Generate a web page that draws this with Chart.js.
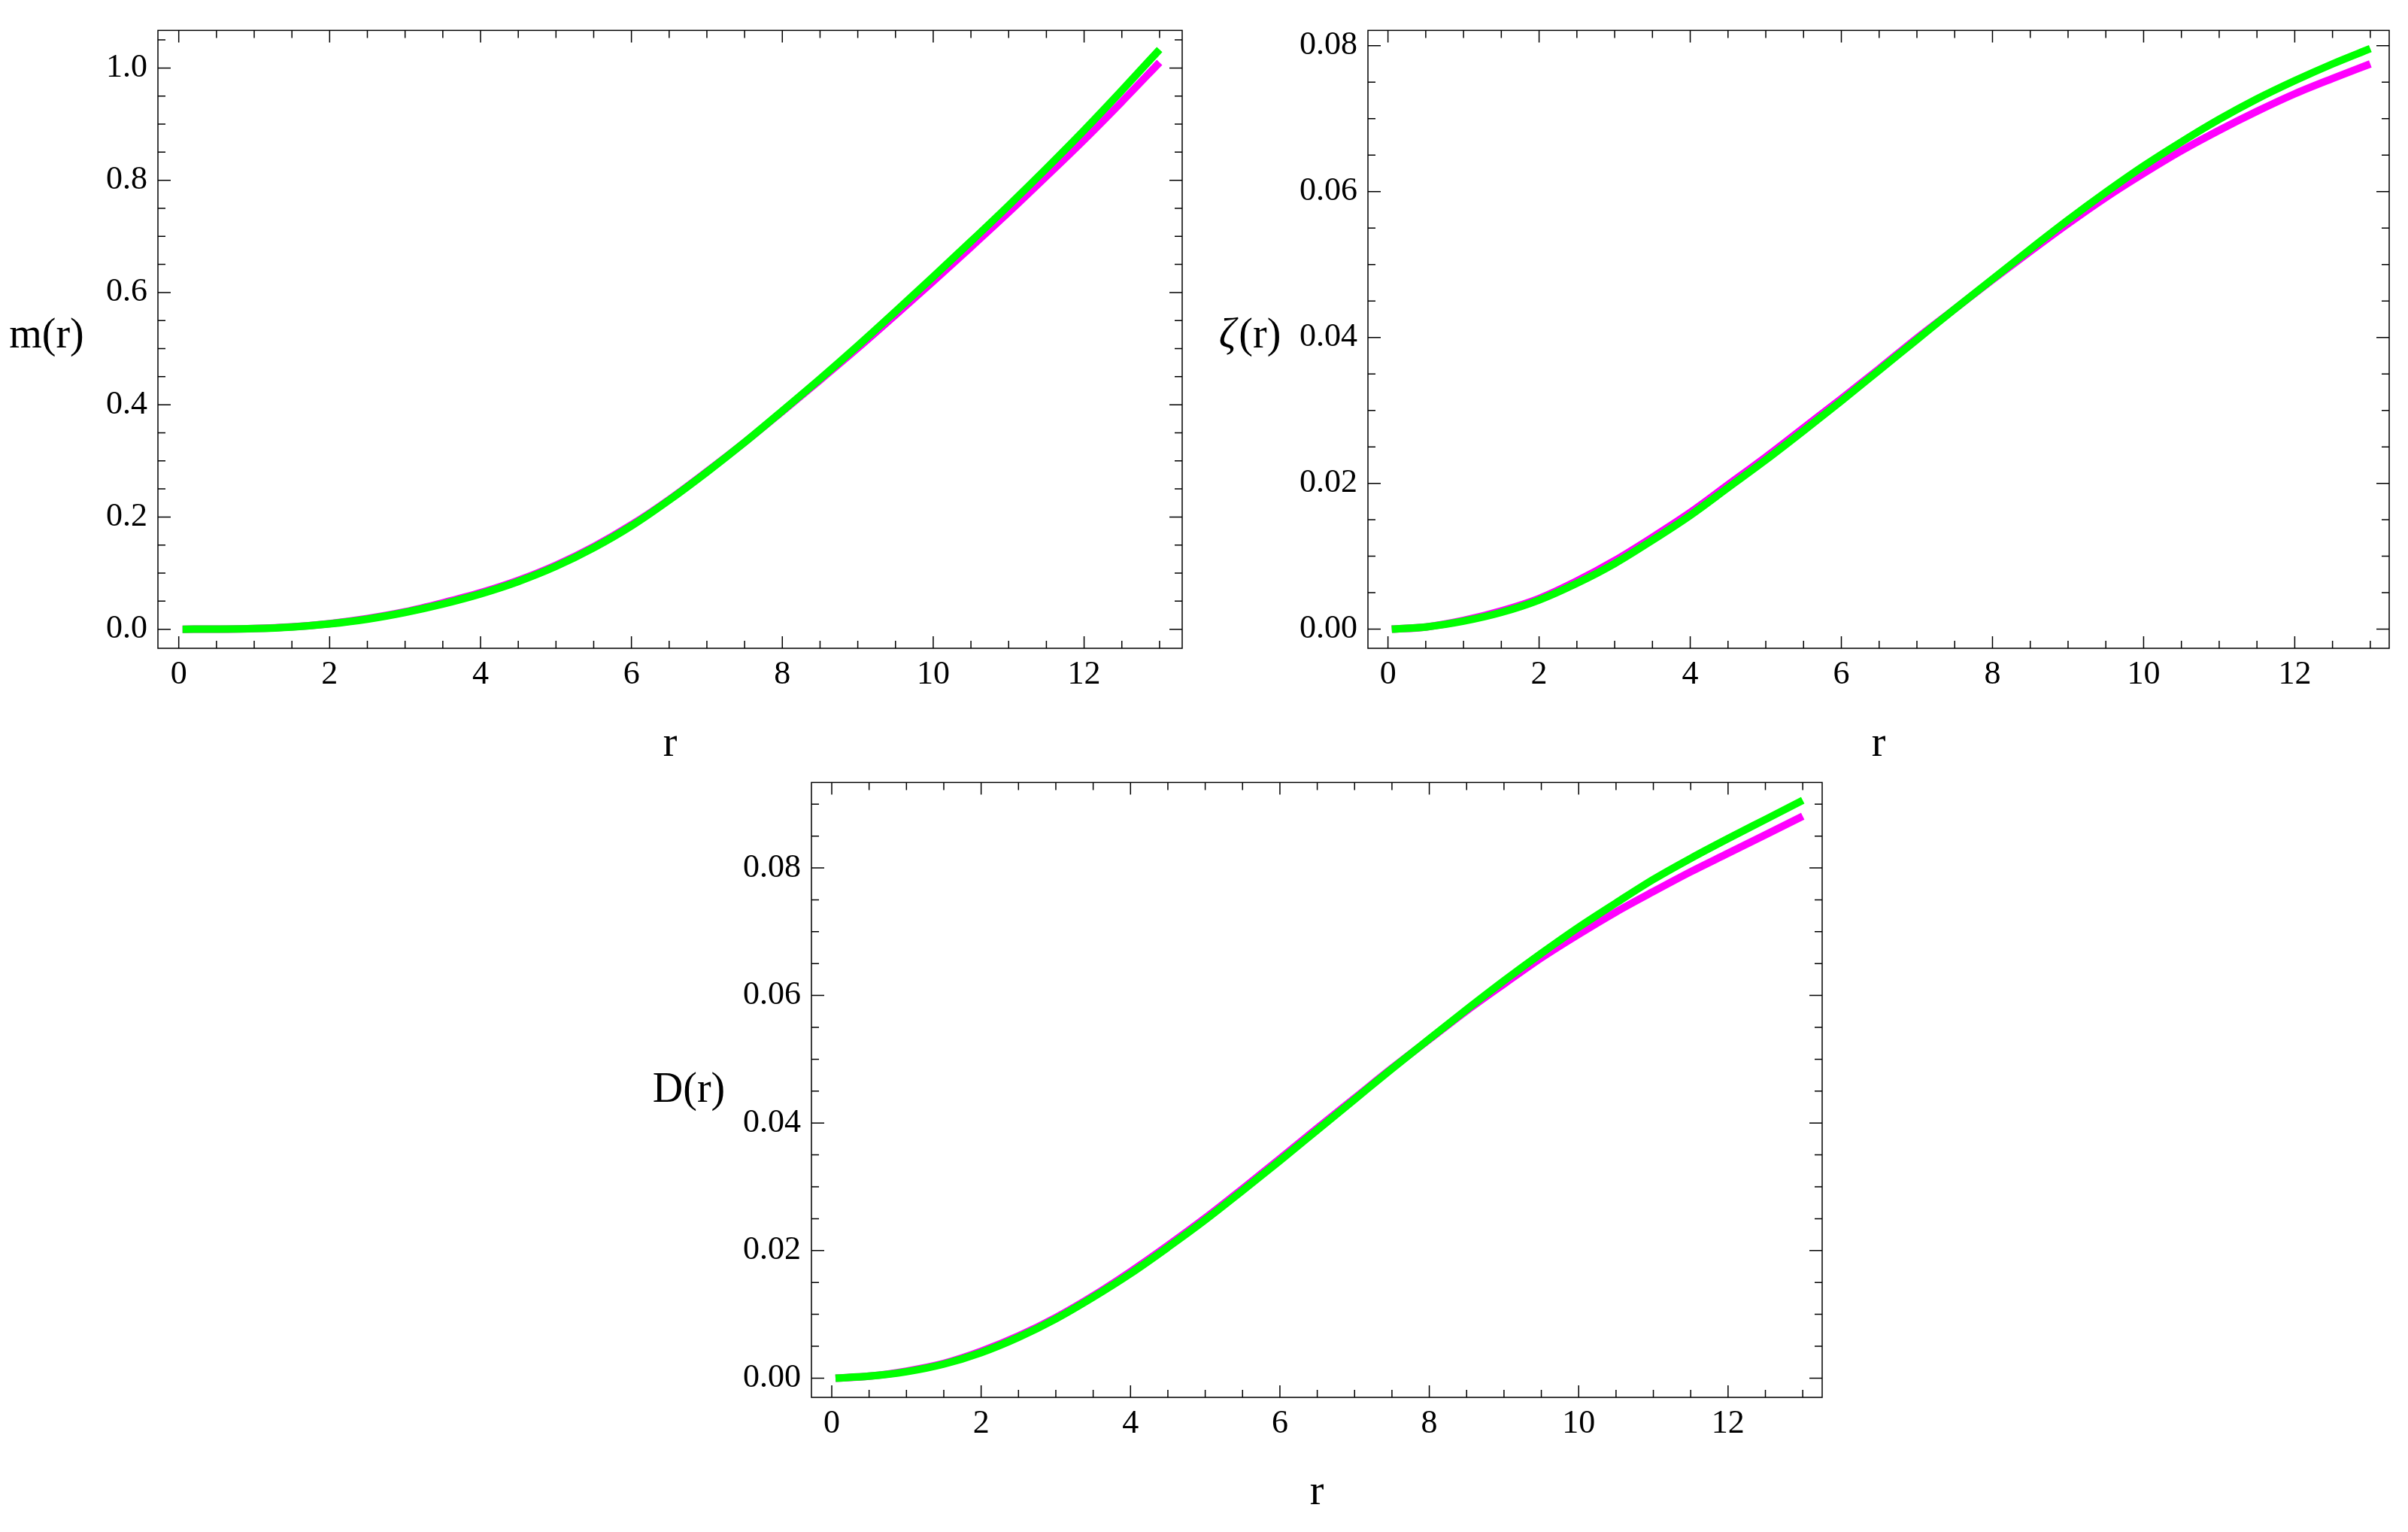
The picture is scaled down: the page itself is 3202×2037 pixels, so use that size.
<!DOCTYPE html>
<html>
<head>
<meta charset="utf-8">
<title>m(r), zeta(r), D(r)</title>
<script src="https://cdn.jsdelivr.net/npm/chart.js@4.4.1/dist/chart.umd.min.js"></script>
<style>
    html, body { margin: 0; padding: 0; background: #fff; }
    body { width: 3202px; height: 2037px; position: relative; overflow: hidden; }
    .panel { position: absolute; }
</style>
</head>
<body>
<div class="panel" style="left:0px;top:0px;width:1600px;height:1040px"><canvas id="mChart"></canvas></div>
<div class="panel" style="left:1600px;top:0px;width:1602px;height:1040px"><canvas id="zetaChart"></canvas></div>
<div class="panel" style="left:800px;top:1000px;width:1700px;height:1037px"><canvas id="dChart"></canvas></div>

<script>
// ---------------- DATA ----------------
const rValues = [0.05, 0.5, 1, 1.5, 2, 2.5, 3, 3.5, 4, 4.5, 5, 5.5, 6, 6.5, 7, 7.5, 8, 8.5, 9, 9.5, 10, 10.5, 11, 11.5, 12, 12.5, 13];

const mMagenta = [0, 0.0002, 0.0013, 0.0042, 0.0100, 0.019, 0.031, 0.047, 0.065, 0.087, 0.114, 0.147, 0.186, 0.231, 0.281, 0.333, 0.388, 0.444, 0.501, 0.560, 0.620, 0.681, 0.743, 0.807, 0.872, 0.940, 1.010];
const mGreen   = [0, 0.0002, 0.0012, 0.0040, 0.0095, 0.018, 0.030, 0.045, 0.063, 0.085, 0.112, 0.145, 0.184, 0.230, 0.280, 0.333, 0.389, 0.446, 0.505, 0.566, 0.628, 0.691, 0.755, 0.821, 0.889, 0.960, 1.033];

const zetaMagenta = [0, 0.0003, 0.0012, 0.0025, 0.0042, 0.0066, 0.0094, 0.0126, 0.0160, 0.0198, 0.0236, 0.0276, 0.0316, 0.0357, 0.0399, 0.0439, 0.0479, 0.0518, 0.0556, 0.0592, 0.0625, 0.0656, 0.0684, 0.0710, 0.0734, 0.0755, 0.0775];
const zetaGreen   = [0, 0.0003, 0.0011, 0.0023, 0.0040, 0.0063, 0.0090, 0.0122, 0.0156, 0.0194, 0.0232, 0.0272, 0.0313, 0.0355, 0.0397, 0.0439, 0.0480, 0.0521, 0.0561, 0.0599, 0.0635, 0.0668, 0.0699, 0.0727, 0.0752, 0.0775, 0.0796];

const dMagenta = [0, 0.0003, 0.0011, 0.0023, 0.0042, 0.0066, 0.0095, 0.0129, 0.0167, 0.0208, 0.0251, 0.0297, 0.0344, 0.0392, 0.0439, 0.0486, 0.0531, 0.0576, 0.0618, 0.0659, 0.0696, 0.0731, 0.0763, 0.0794, 0.0823, 0.0852, 0.0881];
const dGreen   = [0, 0.0003, 0.0010, 0.0022, 0.0040, 0.0064, 0.0093, 0.0127, 0.0164, 0.0205, 0.0248, 0.0294, 0.0341, 0.0389, 0.0437, 0.0485, 0.0532, 0.0578, 0.0623, 0.0666, 0.0707, 0.0745, 0.0782, 0.0815, 0.0846, 0.0876, 0.0906];

// tick labels
const xTicks    = [0, 2, 4, 6, 8, 10, 12];
const mTicks    = [0, 0.2, 0.4, 0.6, 0.8, 1.0];
const zetaTicks = [0, 0.02, 0.04, 0.06, 0.08];
const dTicks    = [0, 0.02, 0.04, 0.06, 0.08];

const serif = "'Liberation Serif', 'Times New Roman', serif";
Chart.defaults.font.family = serif;
Chart.defaults.color = "#000";

// minor tick values between lo and hi
function minorTicks(lo, hi, step) {
    const out = [];
    for (let k = Math.ceil(lo / step); k * step <= hi; k++) out.push(+(k * step).toFixed(6));
    return out;
}

// frame with inward ticks on all four sides + horizontal axis labels
const frameTicks = {
    id: "frameTicks",
    beforeDatasetsDraw(chart, args, o) {
        const { ctx, chartArea: a, scales: { x, y } } = chart;
        ctx.save();
        ctx.strokeStyle = "#000";
        ctx.lineWidth = 1.5;
        ctx.strokeRect(a.left, a.top, a.right - a.left, a.bottom - a.top);
        ctx.beginPath();
        const xt = (v, len) => {
            const px = x.getPixelForValue(v);
            if (px < a.left || px > a.right) return;
            ctx.moveTo(px, a.bottom); ctx.lineTo(px, a.bottom - len);
            ctx.moveTo(px, a.top);    ctx.lineTo(px, a.top + len);
        };
        const yt = (v, len) => {
            const py = y.getPixelForValue(v);
            if (py < a.top || py > a.bottom) return;
            ctx.moveTo(a.left, py);  ctx.lineTo(a.left + len, py);
            ctx.moveTo(a.right, py); ctx.lineTo(a.right - len, py);
        };
        minorTicks(x.min, x.max, o.xMinor).forEach(v => xt(v, 10));
        minorTicks(y.min, y.max, o.yMinor).forEach(v => yt(v, 10));
        o.xMajor.forEach(v => xt(v, 16));
        o.yMajor.forEach(v => yt(v, 17));
        ctx.stroke();
        ctx.restore();
    },
    afterDraw(chart, args, o) {
        const { ctx, chartArea: a } = chart;
        ctx.save();
        ctx.fillStyle = "#000";
        ctx.textBaseline = "middle";
        ctx.font = "56px " + serif;
        // x label
        ctx.textAlign = "center";
        ctx.fillText("r", (a.left + a.right) / 2, o.xLabelY);
        // y label (prefix may be italic)
        const pre = o.yPrefix;
        ctx.font = (o.yItalic ? "italic " : "") + "56px " + serif;
        const w1 = ctx.measureText(pre).width;
        ctx.font = "56px " + serif;
        const w2 = ctx.measureText(o.yRest).width;
        const sx = o.yLabelX - (w1 + w2) / 2;
        ctx.textAlign = "left";
        ctx.font = (o.yItalic ? "italic " : "") + "56px " + serif;
        ctx.fillText(pre, sx, o.yLabelY);
        ctx.font = "56px " + serif;
        ctx.fillText(o.yRest, sx + w1 + (o.yItalic ? 4 : 0), o.yLabelY);
        ctx.restore();
    }
};

function makePanel(id, p) {
    const series = (arr, color) => ({
        data: rValues.map((r, i) => ({ x: r, y: arr[i] })),
        borderColor: color,
        backgroundColor: color,
        borderWidth: 10,
        borderCapStyle: "butt",
        pointRadius: 0,
        cubicInterpolationMode: "monotone",
        fill: false
    });
    new Chart(document.getElementById(id), {
        type: "line",
        // first dataset is painted last, so green sits on top of magenta
        data: { datasets: [series(p.green, "#00ff00"), series(p.magenta, "#ff00ff")] },
        plugins: [frameTicks],
        options: {
            responsive: true,
            maintainAspectRatio: false,
            animation: false,
            devicePixelRatio: 1,
            layout: { padding: { left: 0, top: p.padTop, right: p.padRight, bottom: 0 } },
            scales: {
                x: {
                    type: "linear",
                    min: p.xMin, max: p.xMax,
                    grid: { display: false, drawTicks: false },
                    border: { display: false },
                    afterBuildTicks: s => { s.ticks = xTicks.map(v => ({ value: v })); },
                    afterFit: s => { s.height = p.xAxisH; },
                    ticks: {
                        padding: 9, color: "#000", maxRotation: 0, autoSkip: false,
                        font: { family: serif, size: 44 },
                        callback: v => String(v)
                    }
                },
                y: {
                    min: p.yMin, max: p.yMax,
                    grid: { display: false, drawTicks: false },
                    border: { display: false },
                    afterBuildTicks: s => { s.ticks = p.yTicks.map(v => ({ value: v })); },
                    afterFit: s => { s.width = p.yAxisW; },
                    ticks: {
                        padding: 14, color: "#000", autoSkip: false,
                        font: { family: serif, size: 44 },
                        callback: v => Number(v).toFixed(p.digits)
                    }
                }
            },
            plugins: {
                legend: { display: false },
                tooltip: { enabled: false },
                frameTicks: {
                    xMajor: xTicks, xMinor: 0.5,
                    yMajor: p.yTicks, yMinor: p.yMinor,
                    yPrefix: p.yPrefix, yRest: "(r)", yItalic: p.yItalic,
                    yLabelX: p.yLabelX, yLabelY: p.yLabelY, xLabelY: p.xLabelY
                }
            }
        }
    });
}

// ---------------- m(r) ----------------
makePanel("mChart", {
    magenta: mMagenta, green: mGreen,
    xMin: -0.276, xMax: 13.30, yMin: -0.034, yMax: 1.067,
    yTicks: mTicks, yMinor: 0.05, digits: 1,
    padTop: 20, padRight: 28, yAxisW: 210, xAxisH: 178,
    yPrefix: "m", yItalic: false, yLabelX: 62, yLabelY: 447, xLabelY: 990
});

// ---------------- zeta(r) ----------------
makePanel("zetaChart", {
    magenta: zetaMagenta, green: zetaGreen,
    xMin: -0.265, xMax: 13.25, yMin: -0.00262, yMax: 0.0821,
    yTicks: zetaTicks, yMinor: 0.005, digits: 2,
    padTop: 22, padRight: 25, yAxisW: 219, xAxisH: 178,
    yPrefix: "ζ", yItalic: true, yLabelX: 60, yLabelY: 447, xLabelY: 990
});

// ---------------- D(r) ----------------
makePanel("dChart", {
    magenta: dMagenta, green: dGreen,
    xMin: -0.272, xMax: 13.26, yMin: -0.00302, yMax: 0.0934,
    yTicks: dTicks, yMinor: 0.005, digits: 2,
    padTop: 27, padRight: 77, yAxisW: 279, xAxisH: 179,
    yPrefix: "D", yItalic: false, yLabelX: 116, yLabelY: 450, xLabelY: 985
});
</script>
</body>
</html>
